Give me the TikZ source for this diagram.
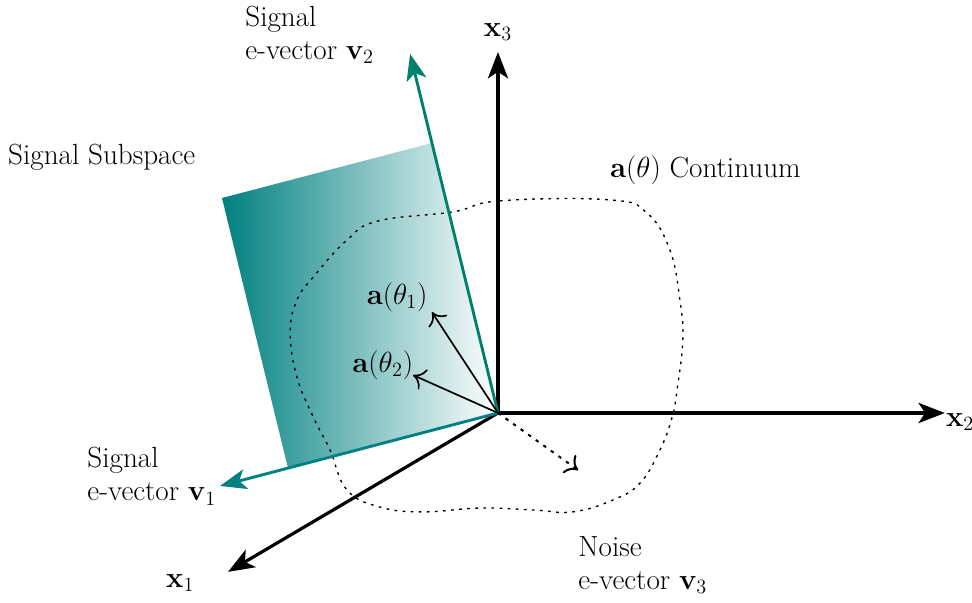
\documentclass[tikz,border=0pt]{standalone}
\usetikzlibrary{arrows.meta}
\definecolor{subspace}{HTML}{008080}
\definecolor{sigline}{HTML}{00806A}

\begin{document}
\begin{tikzpicture}[
  axis/.style={draw=black,line width=1.9pt,-{Stealth[length=5.5mm,width=4.2mm,inset=1.4mm]}},
  evec/.style={line width=1.7pt,-{Stealth[length=5.5mm,width=4.2mm,inset=1.4mm]}},
  steer/.style={draw=black,line width=1pt,-{To[length=2.4mm,width=4.6mm]}},
  noisevec/.style={draw=black,line width=1.2pt,dash pattern=on 2pt off 3.5pt,-{To[length=2.4mm,width=4.6mm]}},
  lbl/.style={inner sep=0pt,align=left,font=\LARGE},
  curve/.style={draw=black,line width=0.8pt,dash pattern=on 1.6pt off 3.2pt}
]
\useasboundingbox (-10.375,-3.958) rectangle (9.875,8.604);
\coordinate (o) at (0,0);
\coordinate (pa) at (-4.375,-1.146);
\coordinate (pc) at (-1.375,5.625);
\coordinate (pb) at (-5.75,4.479);
% signal subspace
\shade[left color=subspace,right color=white] (o) -- (pa) -- (pb) -- (pc) -- cycle;
% a(theta) continuum
\draw[curve] plot[smooth cycle,tension=0.7] coordinates {
  (-0.94,4.19) (0.04,4.42) (2.33,4.44) (3.10,4.17) (3.58,3.40) (3.79,2.35)
  (3.85,1.52) (3.73,0.48) (3.63,-0.08) (3.375,-0.77) (2.96,-1.46) (2.40,-1.81)
  (1.56,-2.06) (0.73,-2.02) (-0.375,-1.98) (-1.56,-2.06) (-2.46,-1.96)
  (-3.15,-1.60) (-3.5,-0.77) (-3.85,-0.08) (-4.19,0.75) (-4.33,1.67)
  (-4.19,2.35) (-3.85,2.83) (-3.15,3.60) (-2.50,4.00)};
% axes
\coordinate (x1end) at (-5.625,-3.31);
\coordinate (x2end) at (9.31,0);
\coordinate (x3end) at (0,7.52);
\draw[axis] (o) -- (x1end);
\draw[axis] (o) -- (x2end);
\draw[axis] (o) -- (x3end);
\node (x1) at (-6.62,-3.54) {\LARGE$\mathbf{x}_1$};
\node[anchor=west,inner sep=0pt] (x2) at (9.33,-0.19) {\LARGE$\mathbf{x}_2$};
\node (x3) at (0,7.94) {\LARGE$\mathbf{x}_3$};
% eigenvectors
\coordinate (v1end) at (-5.79,-1.52);
\coordinate (v2end) at (-1.83,7.48);
\coordinate (v3end) at (1.67,-1.19);
\draw[evec,draw=subspace,fill=subspace] (o) -- (v1end);
\draw[evec,draw=sigline,fill=sigline] (o) -- (v2end);
\draw[noisevec] (o) -- (v3end);
% steering vectors
\coordinate (a1end) at (-1.375,2.10);
\coordinate (a2end) at (-1.77,0.79);
\draw[steer] (o) -- (a1end);
\draw[steer] (o) -- (a2end);
\node (a1) at (-2.10,2.42) {\LARGE$\mathbf{a}(\theta_1)$};
\node (a2) at (-2.40,1.0) {\LARGE$\mathbf{a}(\theta_2)$};
% labels
\node[lbl,anchor=west] (sub) at (-10.21,5.33) {Signal Subspace};
\node[lbl,anchor=west] (cont) at (2.33,5.06) {$\mathbf{a}(\theta)$ Continuum};
\node[lbl,anchor=north west] (v2) at (-5.27,8.48) {Signal\\[-2.5pt]e-vector $\mathbf{v}_2$};
\node[lbl,anchor=north west] (v1) at (-8.56,-0.71) {Signal\\[-2.5pt]e-vector $\mathbf{v}_1$};
\node[lbl,anchor=north west] (v3) at (1.67,-2.56) {Noise\\[-2.5pt]e-vector $\mathbf{v}_3$};
\end{tikzpicture}
\end{document}
